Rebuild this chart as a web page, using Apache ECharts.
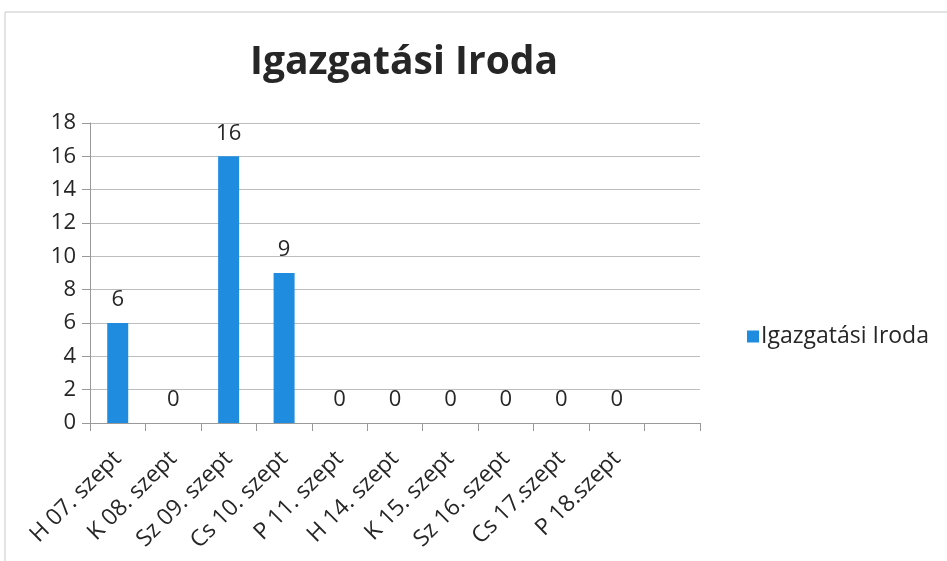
<!DOCTYPE html>
<html lang="hu">

<head>
    <meta charset="UTF-8">
    <title>Igazgatási Iroda</title>
    <script src="https://cdn.jsdelivr.net/npm/echarts@6/dist/echarts.min.js"></script>
    <style>
        body { margin: 0; background: #fff; }
    </style>
</head>

<body>

    <div id='main' style="width: 947px;height: 561px;"></div>

    <script>
        // napok (az utolsó oszlop üres)
        var days = ['H 07. szept', 'K 08. szept', 'Sz 09. szept', 'Cs 10. szept', 'P 11. szept',
            'H 14. szept', 'K 15. szept', 'Sz 16. szept', 'Cs 17.szept', 'P 18.szept', ''];
        var counts = [6, 0, 16, 9, 0, 0, 0, 0, 0, 0, null];
        var seriesName = 'Igazgatási Iroda';

        var font = '"Open Sans", "Noto Sans", sans-serif';
        var myChart = echarts.init(document.getElementById('main'));

        var option = {
            animation: false,
            textStyle: { fontFamily: font },
            title: {
                text: 'Igazgatási Iroda',
                left: 399,
                textAlign: 'center',
                top: 38,
                textStyle: { fontSize: 39, fontWeight: 'bold', color: '#262626', fontFamily: font }
            },
            // rajz keret
            graphic: [{
                type: 'polyline',
                shape: { points: [[5, 561], [5, 12], [947, 12]] },
                style: { stroke: '#c8c8c8', lineWidth: 1, fill: null }
            }],
            legend: {
                orient: 'vertical',
                left: 742,
                top: 320,
                itemWidth: 12,
                itemHeight: 12,
                itemGap: 6,
                icon: 'rect',
                textStyle: { fontSize: 23, color: '#262626', fontFamily: font, padding: [0, 0, 0, -3] },
                data: [seriesName]
            },
            grid: { left: 90, right: 247, top: 123, bottom: 138 },
            xAxis: {
                type: 'category',
                data: days,
                axisLine: { lineStyle: { color: '#999' } },
                axisTick: { show: true, length: 8, lineStyle: { color: '#999' } },
                axisLabel: { rotate: 45, fontSize: 23, color: '#262626', margin: 32, interval: 0 }
            },
            yAxis: {
                type: 'value',
                min: 0,
                max: 18,
                interval: 2,
                axisLine: { show: true, lineStyle: { color: '#999' } },
                axisTick: { show: true, length: 8, lineStyle: { color: '#999' } },
                splitLine: { lineStyle: { color: '#bdbdbd' } },
                axisLabel: { fontSize: 22, color: '#262626', margin: 14 }
            },
            series: [{
                name: seriesName,
                type: 'bar',
                data: counts,
                barWidth: 21,
                itemStyle: { color: '#1f8ce0' },
                label: { show: true, position: 'top', distance: 12, fontSize: 22, color: '#262626' }
            }]
        };

        myChart.setOption(option);
    </script>
</body>

</html>
